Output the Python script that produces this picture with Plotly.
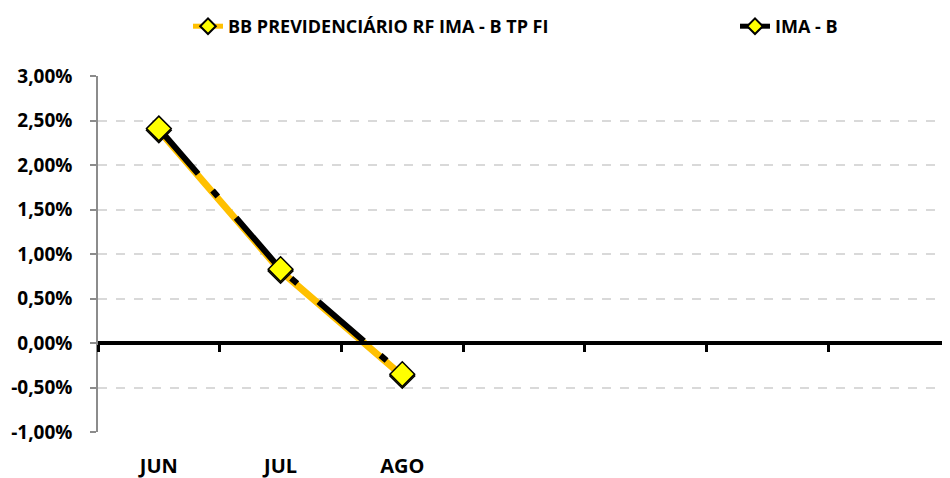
import plotly.graph_objects as go

months = ["JUN", "JUL", "AGO", "SET", "OUT", "NOV", "DEZ"]
labels_shown = ["JUN", "JUL", "AGO"]
fund_name = "BB PREVIDENCIÁRIO RF IMA - B TP FI"
bench_name = "IMA - B"
fund_values = [0.0239, 0.0081, -0.0037]
bench_values = [0.0241, 0.0083, -0.0035]
y_ticks = [-0.01, -0.005, 0.0, 0.005, 0.01, 0.015, 0.02, 0.025, 0.03]
y_ticktext = [("%.2f%%" % (v * 100)).replace(".", ",") for v in y_ticks]

FONT = "Open Sans"
W, H = 942, 470
n = len(months)
xs_f = list(range(len(fund_values)))
xs_b = list(range(len(bench_values)))

fig = go.Figure()
fig.add_trace(go.Scatter(
    x=xs_f, y=fund_values, name=fund_name, mode="lines+markers", legend="legend",
    line=dict(color="#FFC000", width=7),
    marker=dict(symbol="diamond", size=19, color="#FFFF00", line=dict(color="#000000", width=1.5)),
    xaxis="x", yaxis="y",
))
fig.add_trace(go.Scatter(
    x=xs_b, y=bench_values, name=bench_name, mode="lines+markers", legend="legend2",
    line=dict(color="#000000", width=6, dash="60px,22px,8px,28px"),
    marker=dict(symbol="diamond", size=19, color="#FFFF00", line=dict(color="#000000", width=1.5)),
    xaxis="x", yaxis="y",
))
# invisible trace for the label axis
fig.add_trace(go.Scatter(x=[0], y=[0], mode="markers", marker=dict(opacity=0),
                         showlegend=False, hoverinfo="skip", xaxis="x2", yaxis="y"))

legend_common = dict(orientation="h", xref="container", yref="container",
                     y=1, xanchor="left", yanchor="top",
                     font=dict(family=FONT, size=18, color="#000000", weight="bold"),
                     itemsizing="constant", bgcolor="rgba(0,0,0,0)")

bound_vals = [i - 0.5 for i in range(n + 1)]
fig.update_layout(
    width=W, height=H,
    margin=dict(l=90, r=0, t=68, b=46, autoexpand=False),
    paper_bgcolor="white", plot_bgcolor="white",
    showlegend=True,
    legend=dict(legend_common, x=180 / W),
    legend2=dict(legend_common, x=727 / W),
    xaxis=dict(range=[-0.5, n - 0.5], anchor="free", position=0.25,
               tickvals=bound_vals, ticktext=[""] * len(bound_vals),
               ticks="outside", ticklen=7, tickwidth=3, tickcolor="#000000",
               showline=True, linecolor="#000000", linewidth=4,
               showgrid=False, zeroline=False, fixedrange=True),
    xaxis2=dict(range=[-0.5, n - 0.5], overlaying="x", anchor="y", side="bottom",
                tickvals=list(range(len(labels_shown))), ticktext=labels_shown,
                ticks="outside", ticklen=16, tickcolor="rgba(0,0,0,0)",
                tickfont=dict(family=FONT, size=20, color="#000000", weight="bold"),
                showline=False, showgrid=False, zeroline=False),
    yaxis=dict(range=[-0.01, 0.03], tickvals=y_ticks, ticktext=y_ticktext,
               tickfont=dict(family=FONT, size=19, color="#000000", weight="bold"),
               ticks="outside", ticklen=6, tickcolor="#8c8c8c", tickwidth=1.5,
               ticklabelstandoff=14,
               showline=True, linecolor="#8c8c8c", linewidth=1.5,
               showgrid=True, gridcolor="#d9d9d9", griddash="dash", gridwidth=1.5,
               zeroline=False),
)
fig.write_html("out.html")
